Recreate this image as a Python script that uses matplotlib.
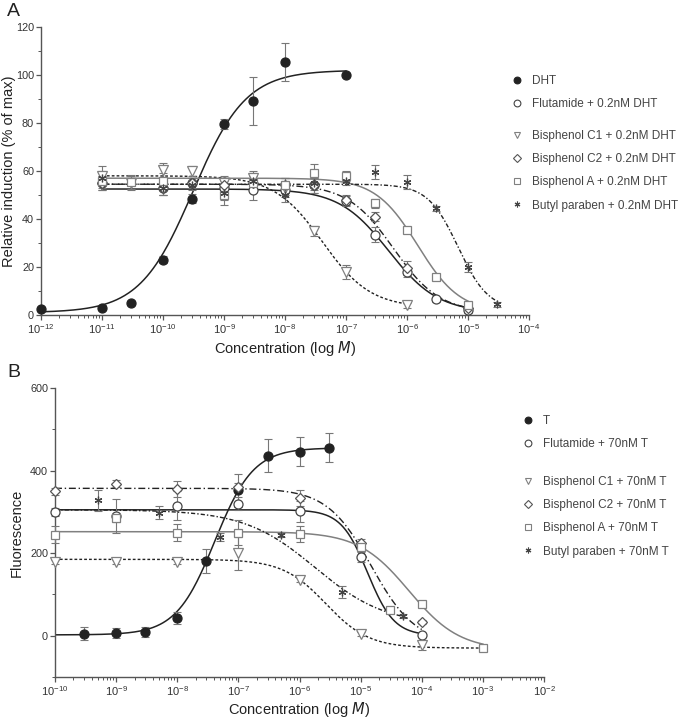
import numpy as np
import matplotlib
matplotlib.use("Agg")
import matplotlib.pyplot as plt
from matplotlib.lines import Line2D
from matplotlib.ticker import FixedLocator, LogFormatterSciNotation, MultipleLocator, NullFormatter

plt.rcParams['font.family'] = ['Liberation Sans', 'DejaVu Sans']
plt.rcParams['mathtext.default'] = 'regular'

# ---------------- Panel A data ----------------
a_dht_x = [1e-12, 1e-11, 3e-11, 1e-10, 3e-10, 1e-9, 3e-9, 1e-8, 1e-7]
a_dht_y = [2.5, 3, 5, 23, 48.5, 79.5, 89, 105.5, 100]
a_dht_err = [1, 1, 1, 1.5, 2, 2, 10, 8, 1]
a_dht_fit = [1.0, 102.0, 3.1e-10, 1.0]   # bottom, top, EC50, hill

a_flut_x = [1e-11, 1e-10, 3e-10, 1e-9, 3e-9, 1e-8, 3e-8, 1e-7, 3e-7, 1e-6, 3e-6, 1e-5]
a_flut_y = [55, 53, 55, 53, 52, 52, 54, 47.5, 33.5, 18, 6.5, 2]
a_flut_err = [3, 3, 2, 3, 4, 3, 3, 2, 3, 2, 1, 1]
a_flut_fit = [1.0, 52.5, 5.0e-7, 1.07]

a_c1_x = [1e-11, 3e-11, 1e-10, 3e-10, 1e-9, 3e-9, 1e-8, 3e-8, 1e-7, 1e-6]
a_c1_y = [58, 55, 60.5, 60, 55, 57, 53, 35, 18, 4]
a_c1_err = [4, 3, 3, 2, 3, 3, 3, 2, 3, 1]
a_c1_fit = [3.0, 58.0, 4.1e-8, 1.1]

a_c2_x = [1e-11, 1e-10, 3e-10, 1e-9, 3e-9, 1e-8, 3e-8, 1e-7, 3e-7, 1e-6, 1e-5]
a_c2_y = [55, 53, 55, 54, 55, 54, 54, 48, 41, 19.5, 3]
a_c2_err = [3, 3, 2, 3, 3, 3, 3, 2, 2, 3, 1]
a_c2_fit = [1.0, 54.5, 6.0e-7, 1.15]

a_bpa_x = [1e-11, 3e-11, 1e-10, 1e-9, 3e-9, 1e-8, 3e-8, 1e-7, 3e-7, 1e-6, 3e-6, 1e-5]
a_bpa_y = [56, 55.5, 56, 50, 55, 54, 59, 58, 46.5, 35.5, 16, 4]
a_bpa_err = [3, 3, 3, 4, 3, 3, 4, 2, 2, 1, 1, 1]
a_bpa_fit = [1.0, 57.0, 1.5e-6, 1.25]

a_bp_x = [1e-11, 1e-10, 3e-10, 1e-9, 3e-9, 1e-8, 3e-8, 1e-7, 3e-7, 1e-6, 3e-6, 1e-5, 3e-5]
a_bp_y = [57, 53, 54, 51, 56, 50, 55, 56, 59.5, 55.5, 44.5, 20, 4.5]
a_bp_err = [3, 3, 2, 3, 3, 3, 3, 2, 3, 3, 1, 2, 1]
a_bp_fit = [2.0, 54.5, 6.9e-6, 1.75]

# ---------------- Panel B data ----------------
b_t_x = [3e-10, 1e-9, 3e-9, 1e-8, 3e-8, 1e-7, 3e-7, 1e-6, 3e-6]
b_t_y = [5, 6, 9, 43, 181, 352, 436, 446, 455]
b_t_err = [15, 12, 12, 15, 28, 40, 40, 35, 35]
b_t_fit = [2.0, 455.0, 4.1e-8, 1.37]

b_flut_x = [1e-10, 1e-9, 1e-8, 1e-7, 1e-6, 1e-5, 1e-4]
b_flut_y = [300, 290, 315, 320, 301, 190, 2]
b_flut_err = [10, 40, 35, 15, 25, 12, 5]
b_flut_fit = [0.0, 305.0, 1.3e-5, 2.0]

b_c1_x = [1e-10, 1e-9, 1e-8, 1e-7, 1e-6, 1e-5, 1e-4]
b_c1_y = [178, 178, 178, 200, 135, 5, -22]
b_c1_err = [5, 5, 5, 40, 5, 5, 12]
b_c1_fit = [-30.0, 185.0, 2.7e-6, 1.23]

b_c2_x = [1e-10, 1e-9, 1e-8, 1e-7, 1e-6, 1e-5, 1e-4]
b_c2_y = [350, 368, 355, 360, 333, 224, 34]
b_c2_err = [8, 8, 20, 10, 20, 10, 5]
b_c2_fit = [-20.0, 357.0, 1.5e-5, 1.2]

b_bpa_x = [1e-10, 1e-9, 1e-8, 1e-7, 1e-6, 1e-5, 3e-5, 1e-4, 1e-3]
b_bpa_y = [245, 285, 250, 250, 246, 215, 63, 77, -30]
b_bpa_err = [20, 10, 20, 30, 20, 10, 5, 5, 5]
b_bpa_fit = [-35.0, 252.0, 6.2e-5, 1.05]

b_bp_x = [5e-10, 5e-9, 5e-8, 5e-7, 5e-6, 5e-5]
b_bp_y = [328, 298, 240, 245, 106, 48]
b_bp_err = [25, 15, 10, 5, 15, 5]
b_bp_fit = [25.0, 305.0, 1.8e-6, 0.75]

# curve x ranges
a_dht_range = [1e-12, 1e-7]
a_flut_range = [1e-11, 1e-5]
a_c1_range = [1e-11, 1e-6]
a_c2_range = [1e-11, 1e-5]
a_bpa_range = [1e-11, 1e-5]
a_bp_range = [1e-11, 3e-5]
b_t_range = [1e-10, 3e-6]
b_flut_range = [1e-10, 1e-4]
b_c1_range = [1e-10, 1e-3]
b_c2_range = [1e-10, 1e-4]
b_bpa_range = [1e-10, 1e-3]
b_bp_range = [1e-10, 5e-5]

a_xticks = [1e-12, 1e-11, 1e-10, 1e-9, 1e-8, 1e-7, 1e-6, 1e-5, 1e-4]
b_xticks = [1e-10, 1e-9, 1e-8, 1e-7, 1e-6, 1e-5, 1e-4, 1e-3, 1e-2]

legend_a = ["DHT", "Flutamide + 0.2nM DHT", "Bisphenol C1 + 0.2nM DHT",
            "Bisphenol C2 + 0.2nM DHT", "Bisphenol A + 0.2nM DHT",
            "Butyl paraben + 0.2nM DHT"]
legend_b = ["T", "Flutamide + 70nM T", "Bisphenol C1 + 70nM T",
            "Bisphenol C2 + 70nM T", "Bisphenol A + 70nM T",
            "Butyl paraben + 70nM T"]

GRAY = '#808080'
DARK = '#222222'
AX = '#555555'

def agonist(x, p):
    b, t, ec, h = p
    return b + (t - b) / (1 + (ec / x) ** h)

def antagonist(x, p):
    b, t, ic, h = p
    return b + (t - b) / (1 + (x / ic) ** h)

ast = (6, 2, 0)
styles = [
    dict(marker='o', mfc=DARK, mec=DARK, ms=6.5, line=dict(color=DARK, ls='-', lw=1.1)),
    dict(marker='o', mfc='white', mec='#444444', ms=6.5, line=dict(color=DARK, ls='-', lw=1.1)),
    dict(marker='v', mfc='white', mec=GRAY, ms=6.5, line=dict(color=DARK, ls=(0, (2, 1.5)), lw=1.0)),
    dict(marker='D', mfc='white', mec='#555555', ms=5.0, line=dict(color=DARK, ls=(0, (5, 2, 1, 2)), lw=1.0)),
    dict(marker='s', mfc='white', mec=GRAY, ms=6.0, line=dict(color=GRAY, ls='-', lw=1.1)),
    dict(marker=ast, mfc=GRAY, mec='#444444', ms=5.5, line=dict(color=DARK, ls=(0, (3, 1.5, 1, 1.5)), lw=1.0)),
]

fig = plt.figure(figsize=(6.87, 7.2), dpi=100)
axA = fig.add_axes([41/687, 1 - 315/720, (529 - 41)/687, (315 - 27)/720])
axB = fig.add_axes([55/687, 1 - 677/720, (544 - 55)/687, (677 - 388)/720])

def plot_series(ax, xs, ys, errs, fit, rng, st, kind):
    xx = np.logspace(np.log10(rng[0]), np.log10(rng[1]), 300)
    yy = agonist(xx, fit) if kind == 'ag' else antagonist(xx, fit)
    ax.plot(xx, yy, zorder=2, **st['line'])
    ax.errorbar(xs, ys, yerr=errs, fmt='none', ecolor='#777777', elinewidth=0.8,
                capsize=3, capthick=0.8, zorder=3, clip_on=False)
    ax.plot(xs, ys, ls='none', marker=st['marker'], mfc=st['mfc'], mec=st['mec'],
            ms=st['ms'], mew=0.9, zorder=4, clip_on=False)

seriesA = [
    (a_dht_x, a_dht_y, a_dht_err, a_dht_fit, a_dht_range, 'ag'),
    (a_flut_x, a_flut_y, a_flut_err, a_flut_fit, a_flut_range, 'an'),
    (a_c1_x, a_c1_y, a_c1_err, a_c1_fit, a_c1_range, 'an'),
    (a_c2_x, a_c2_y, a_c2_err, a_c2_fit, a_c2_range, 'an'),
    (a_bpa_x, a_bpa_y, a_bpa_err, a_bpa_fit, a_bpa_range, 'an'),
    (a_bp_x, a_bp_y, a_bp_err, a_bp_fit, a_bp_range, 'an'),
]
seriesB = [
    (b_t_x, b_t_y, b_t_err, b_t_fit, b_t_range, 'ag'),
    (b_flut_x, b_flut_y, b_flut_err, b_flut_fit, b_flut_range, 'an'),
    (b_c1_x, b_c1_y, b_c1_err, b_c1_fit, b_c1_range, 'an'),
    (b_c2_x, b_c2_y, b_c2_err, b_c2_fit, b_c2_range, 'an'),
    (b_bpa_x, b_bpa_y, b_bpa_err, b_bpa_fit, b_bpa_range, 'an'),
    (b_bp_x, b_bp_y, b_bp_err, b_bp_fit, b_bp_range, 'an'),
]

for ax, ser in ((axA, seriesA), (axB, seriesB)):
    for s, st in zip(ser, styles):
        plot_series(ax, *s[:5], st, s[5])

def style_axis(ax, xticks, ylim, major, minor):
    ax.set_xscale('log')
    ax.set_xlim(xticks[0], xticks[-1])
    ax.set_ylim(*ylim)
    ax.xaxis.set_major_locator(FixedLocator(xticks))
    ax.xaxis.set_major_formatter(LogFormatterSciNotation())
    minors = [m * t for t in xticks[:-1] for m in range(2, 10)]
    ax.xaxis.set_minor_locator(FixedLocator(minors))
    ax.xaxis.set_minor_formatter(NullFormatter())
    ax.yaxis.set_major_locator(MultipleLocator(major))
    ax.yaxis.set_minor_locator(MultipleLocator(minor))
    for sp in ('top', 'right'):
        ax.spines[sp].set_visible(False)
    for sp in ('left', 'bottom'):
        ax.spines[sp].set_color(AX)
        ax.spines[sp].set_linewidth(1.0)
    ax.tick_params(which='major', length=3.5, width=0.9, color=AX, pad=1.5,
                   labelcolor='#333333')
    ax.tick_params(axis='x', which='major', labelsize=8)
    ax.tick_params(axis='y', which='major', labelsize=7.8)
    ax.tick_params(which='minor', length=2.2, width=0.7, color=AX)
    ax.set_xlabel('Concentration (log $\\it{M}$)', fontsize=10.5, color='#222222')

style_axis(axA, a_xticks, (0, 120), 20, 10)
axA.set_ylabel('Relative induction (% of max)', fontsize=10.5, color='#222222')
axA.yaxis.set_label_coords(-0.052, 0.5)
axA.xaxis.set_label_coords(0.5, -0.085)
style_axis(axB, b_xticks, (-100, 600), 200, 100)
axB.yaxis.set_major_locator(FixedLocator([0, 200, 400, 600]))
axB.set_ylabel('Fluorescence', fontsize=10.5, color='#222222')
axB.yaxis.set_label_coords(-0.063, 0.5)
axB.xaxis.set_label_coords(0.5, -0.078)

fig.text(7/687, 1 - 12/720, 'A', fontsize=14, color='#222222', va='center', ha='left')
fig.text(7/687, 1 - 372/720, 'B', fontsize=14, color='#222222', va='center', ha='left')

def make_handles(n):
    hs = []
    for st in styles[:n]:
        hs.append(Line2D([], [], ls='none', marker=st['marker'], mfc=st['mfc'],
                         mec=st['mec'], ms=st['ms'] * 0.75, mew=0.8))
    return hs

def add_legends(labels, x, y1, y2):
    hs = make_handles(6)
    common = dict(frameon=False, fontsize=8.5, handlelength=1.0, handletextpad=0.8,
                  labelspacing=0.95, borderpad=0, labelcolor='#444444')
    fig.legend(hs[:2], labels[:2], loc='upper left',
               bbox_to_anchor=(x / 687, 1 - y1 / 720), **common)
    fig.legend(hs[2:], labels[2:], loc='upper left',
               bbox_to_anchor=(x / 687, 1 - y2 / 720), **common)

add_legends(legend_a, 505, 69, 124)
add_legends(legend_b, 516, 409, 470)

fig.savefig('out.png', dpi=100)
